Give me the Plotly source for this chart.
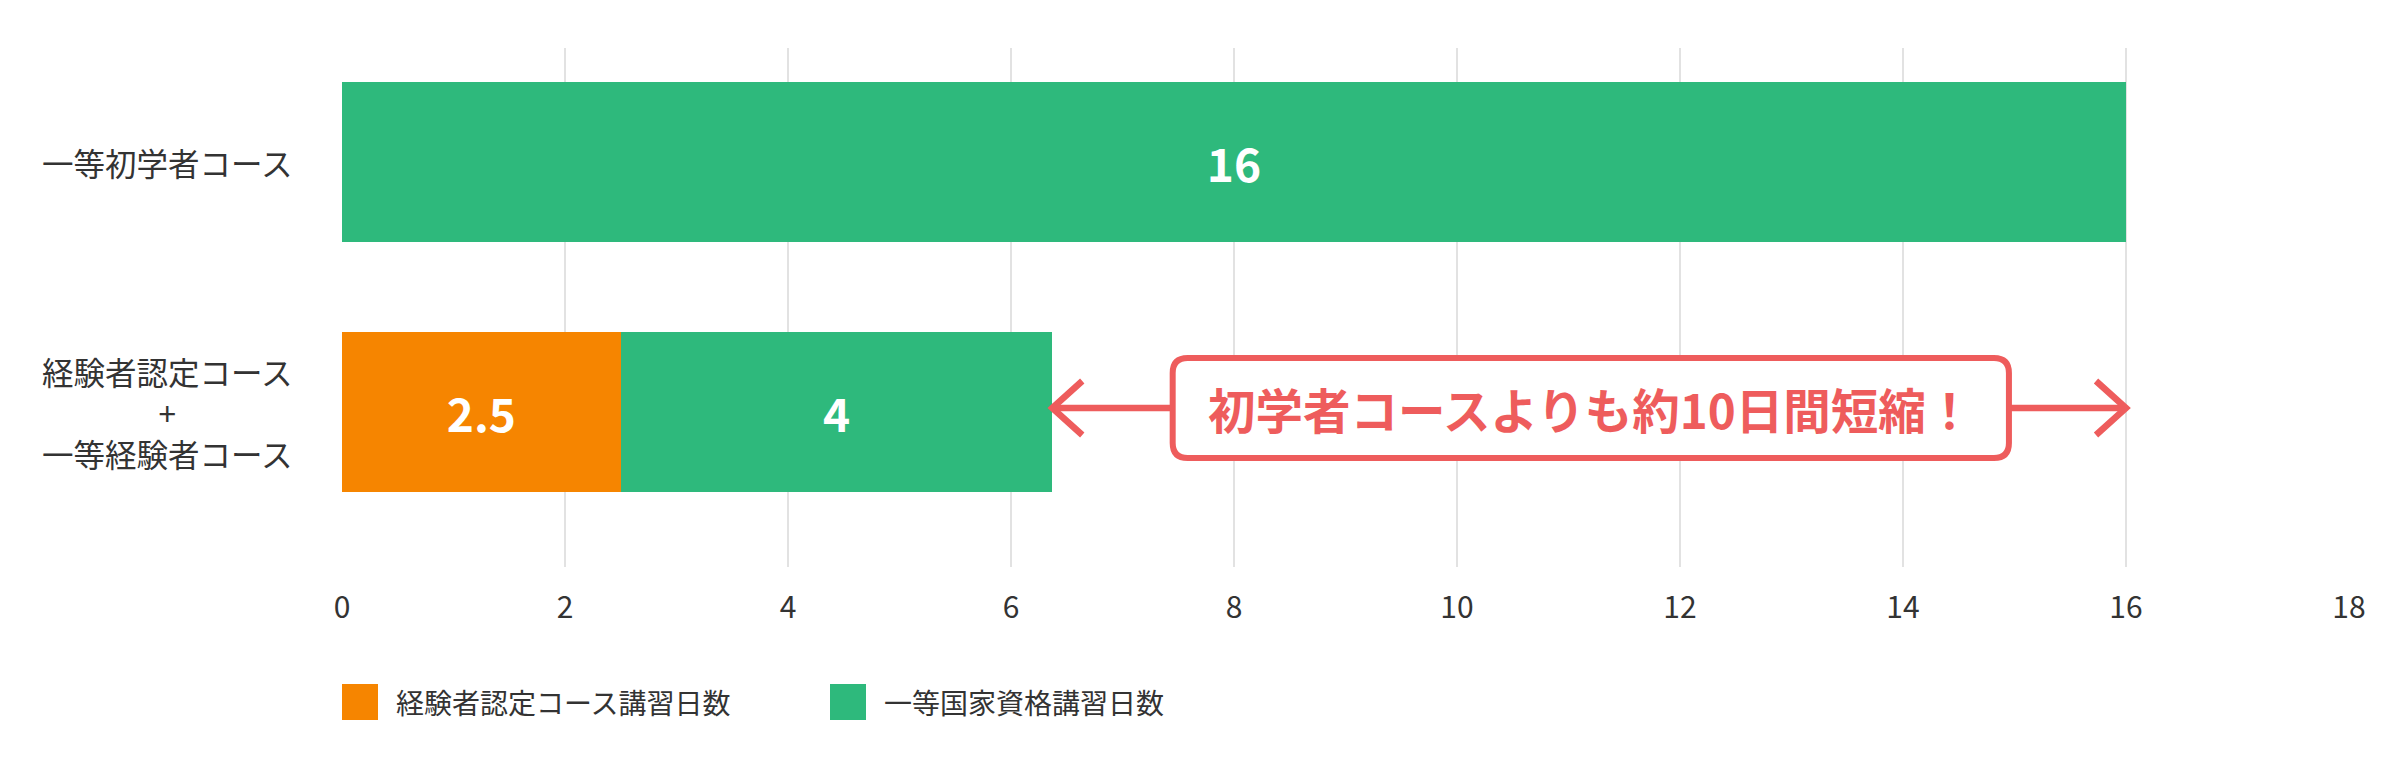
import plotly.graph_objects as go

# data
categories = ["一等初学者コース", "経験者認定コース<br>+<br>一等経験者コース"]
series_names = ["経験者認定コース講習日数", "一等国家資格講習日数"]
experienced_days = [None, 2.5]
national_days = [16, 3.87]
experienced_text = ["", "2.5"]
national_text = ["16", "4"]
x_ticks = [0, 2, 4, 6, 8, 10, 12, 14, 16, 18]
callout_text = "初学者コースよりも約10日間短縮！"

# styles
ORANGE = "#F68500"
GREEN = "#2EB97C"
RED = "#EE5C5C"
TEXT = "#333333"
FONT = "Noto Sans CJK JP"

# page has an 8px body margin, so figure coords = page coords - 8
OFF = 8
W, H = 2400, 760
ML, MR, MT, MB = 342 - OFF, 51 + OFF, 48 - OFF, 193 + OFF
PW, PH = W - ML - MR, H - MT - MB
X_RANGE = [0, 18]
Y_RANGE = [1.62, -0.456]
PX_PER_X = PW / (X_RANGE[1] - X_RANGE[0])
PX_PER_Y = PH / abs(Y_RANGE[0] - Y_RANGE[1])


def px_x(px):
    return (px - OFF - ML) / PW


def px_y(py):
    return (H - MB - (py - OFF)) / PH


fig = go.Figure()
for vals, txt, name, color in [(experienced_days, experienced_text, series_names[0], ORANGE),
                               (national_days, national_text, series_names[1], GREEN)]:
    fig.add_trace(go.Bar(
        y=categories, x=vals, name=name, orientation="h",
        marker=dict(color=color, line=dict(width=0)),
        text=txt, textposition="inside", insidetextanchor="middle",
        textfont=dict(color="white", size=46, family=FONT, weight="bold"),
        width=0.64, showlegend=False, hoverinfo="skip",
    ))

# y labels (centered multi-line)
annotations = []
for cat in categories:
    annotations.append(dict(
        x=0, xref="paper", xshift=-48, xanchor="right",
        y=cat, yref="y", yanchor="middle", align="center",
        text=cat, showarrow=False,
        font=dict(size=31.5, color=TEXT, family=FONT),
    ))

# custom legend
shapes = []
legend_left = [342, 830]
for left, name, color in zip(legend_left, series_names, [ORANGE, GREEN]):
    shapes.append(dict(type="rect", xref="paper", yref="paper",
                       x0=px_x(left), x1=px_x(left + 36), y0=px_y(720), y1=px_y(684),
                       fillcolor=color, line=dict(width=0)))
    annotations.append(dict(x=px_x(left + 52), xref="paper", xanchor="left",
                            y=px_y(702), yref="paper", yanchor="middle",
                            text=name, showarrow=False,
                            font=dict(size=28, color=TEXT, family=FONT)))

# callout: double arrow from end of row 2 to end of row 1, with a rounded box
row2_end = experienced_days[1] + national_days[1]
row1_end = national_days[0]
yc = 0.984
head_dx = 30 / PX_PER_X
head_dy = 27 / PX_PER_Y
arrow = dict(color=RED, width=6.5)

shapes.append(dict(type="line", xref="x", yref="y", x0=row2_end, x1=row1_end,
                   y0=yc, y1=yc, line=arrow, layer="above"))
for tip, sign in [(row2_end, 1), (row1_end, -1)]:
    shapes.append(dict(type="path", xref="x", yref="y", layer="above", line=arrow,
                       path=f"M{tip + sign * head_dx},{yc - head_dy} L{tip},{yc} "
                            f"L{tip + sign * head_dx},{yc + head_dy}"))

bx0, bx1 = 7.45, 14.95
by0, by1 = yc - 50 / PX_PER_Y, yc + 50 / PX_PER_Y
rx, ry = 15 / PX_PER_X, 15 / PX_PER_Y
path = (f"M{bx0 + rx},{by0} L{bx1 - rx},{by0} Q{bx1},{by0} {bx1},{by0 + ry} "
        f"L{bx1},{by1 - ry} Q{bx1},{by1} {bx1 - rx},{by1} "
        f"L{bx0 + rx},{by1} Q{bx0},{by1} {bx0},{by1 - ry} "
        f"L{bx0},{by0 + ry} Q{bx0},{by0} {bx0 + rx},{by0} Z")
shapes.append(dict(type="path", xref="x", yref="y", path=path, layer="above",
                   fillcolor="white", line=dict(color=RED, width=6)))

annotations.append(dict(
    x=(bx0 + bx1) / 2, y=yc, xref="x", yref="y",
    text=callout_text, showarrow=False,
    font=dict(size=47.5, color=RED, family=FONT, weight="bold"),
))

fig.update_layout(
    width=W, height=H,
    margin=dict(l=ML, r=MR, t=MT, b=MB),
    barmode="stack",
    plot_bgcolor="white", paper_bgcolor="white",
    font=dict(family=FONT, color=TEXT),
    xaxis=dict(range=X_RANGE, tickvals=x_ticks, showgrid=True,
               gridcolor="#e2e2e2", gridwidth=2, zeroline=False, showline=False,
               ticks="", tickfont=dict(size=30, color=TEXT), ticklabelstandoff=20),
    yaxis=dict(type="category", categoryorder="array", categoryarray=categories,
               range=Y_RANGE, autorange=False, showticklabels=False,
               showgrid=False, zeroline=False, showline=False),
    shapes=shapes,
    annotations=annotations,
)

fig.write_html("out.html")
